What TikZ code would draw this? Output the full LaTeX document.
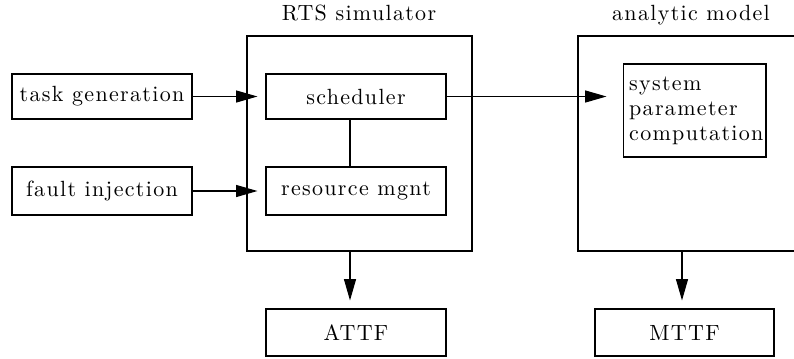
\documentclass[tikz,border=0pt]{standalone}
\usepackage{fontspec}
\setmainfont{lmroman10-regular.otf}[LetterSpace=6]
\usetikzlibrary{arrows.meta}
\begin{document}
\begin{tikzpicture}[x=0.75pt,y=-0.75pt,line width=0.8pt,
  every node/.style={font=\fontsize{16.5}{18.75}\selectfont},
  box/.style={draw,inner sep=0pt,minimum width=135pt},
  arr/.style={-{Triangle[length=16pt,width=9pt]}},
  lbl/.style={anchor=base,inner sep=0pt}]
\useasboundingbox (0,0) rectangle (794,358);
\clip (-2,-2) rectangle (794,360);
% left inputs
\node[box,minimum height=33.75pt] (tg) at (102,96.5) {task generation};
\node[box,minimum height=36pt] (fi) at (102,191) {fault injection};
% RTS simulator
\node[draw,inner sep=0pt,minimum width=168.75pt,minimum height=161.25pt] (rts) at (359.5,143.5) {};
\node[lbl] (rtst) at (359,20) {RTS simulator};
\node[box,minimum height=33.75pt] (sch) at (356,96.5) {scheduler};
\node[box,minimum height=36pt] (rm) at (356,191) {resource mgnt};
% analytic model
\node[draw,inner sep=0pt,minimum width=189pt,minimum height=161.25pt] (am) at (704,143.5) {};
\node[lbl] (amt) at (691,20) {analytic model};
\node[draw,inner xsep=4.6pt,inner ysep=0pt,text width=98pt,align=left,minimum height=69.75pt] (spc) at (694.5,110.5) {system\\parameter\\computation};
% outputs
\node[box,minimum height=35.25pt] (attf) at (356,332.5) {ATTF};
\node[box,minimum width=134.25pt,minimum height=35.25pt] (mttf) at (684.5,332.5) {MTTF};
% connectors
\coordinate (ax) at (350,0);
\coordinate (bx) at (682,0);
\draw[arr,shorten >=6pt] (tg.east) -- (sch.west);
\draw[arr,shorten >=6pt] (fi.east) -- (rm.west);
\draw[arr,shorten >=12pt] (sch.east) -- (sch.east -| spc.west);
\draw (ax |- sch.south) -- (ax |- rm.north);
\draw[arr,shorten >=6pt] (ax |- rts.south) -- (ax |- attf.north);
\draw[arr,shorten >=6pt] (bx |- am.south) -- (bx |- mttf.north);
\end{tikzpicture}
\end{document}
